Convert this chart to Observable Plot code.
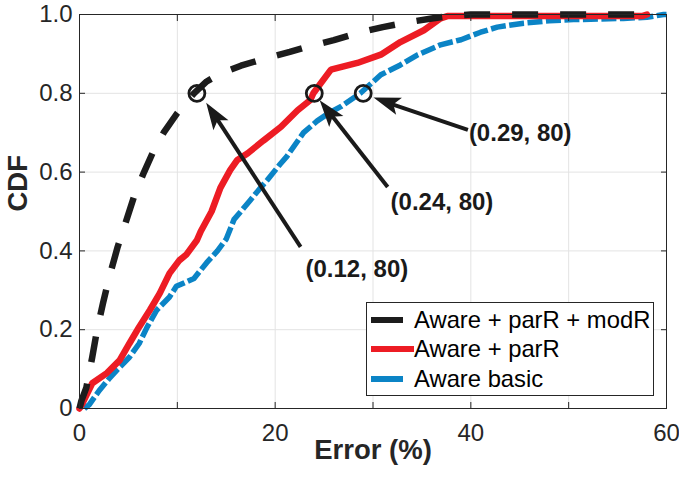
<!DOCTYPE html>
<html><head><meta charset="utf-8">
<script src="https://cdn.jsdelivr.net/npm/d3@7"></script>
<script src="https://cdn.jsdelivr.net/npm/@observablehq/plot@0.6"></script>
<style>
html,body{margin:0;padding:0;background:#fff;}
#wrap{position:relative;width:679px;height:484px;font-family:"Liberation Sans",Arial,sans-serif;}
#legend{position:absolute;left:366px;top:302px;width:286px;height:92px;border:1px solid #262626;background:#fff;}
.sw{position:absolute;left:4px;height:6px;}
.lt{position:absolute;left:47px;font-size:23.8px;color:#000;line-height:28px;white-space:nowrap;}
</style></head><body><div id="wrap"><div id="legend"></div></div>
<script>
// ---- data ----
const xTicks = [0, 10, 20, 30, 40, 50, 60];
const xLabelTicks = [0, 20, 40, 60];
const yTicks = [0, 0.2, 0.4, 0.6, 0.8, 1.0];
const seriesNames = ["Aware + parR + modR", "Aware + parR", "Aware basic"];
const seriesColors = ["#1c1c1c", "#ed1c24", "#0b84c6"];

const blackX = [0, 0.2, 0.7, 1.3, 1.8, 2.4, 3.0, 3.9, 4.9, 5.6, 6.6, 7.5, 8.6, 10.0, 11.7, 13.0, 14.4, 16.5, 19.2, 21.5, 23.6, 26.0, 28.4, 31.0, 33.5, 36.0, 38.0, 40.0, 58.0];
const blackY = [0, 0.02, 0.053, 0.13, 0.2, 0.267, 0.33, 0.41, 0.486, 0.54, 0.60, 0.65, 0.70, 0.75, 0.80, 0.83, 0.85, 0.87, 0.89, 0.905, 0.92, 0.935, 0.953, 0.968, 0.98, 0.99, 0.997, 1.0, 1.0];

const redX = [0, 0.3, 1.3, 2.8, 4.1, 5.1, 6.1, 7.2, 8.2, 9.2, 10.2, 10.9, 12.0, 12.4, 13.5, 14.4, 15.4, 16.1, 17.2, 18.8, 20.6, 22.3, 23.6, 23.9, 25.7, 28.4, 30.8, 32.8, 35.2, 36.9, 37.6, 45.0, 57.5, 58.0];
const redY = [0, 0.013, 0.064, 0.09, 0.122, 0.165, 0.207, 0.25, 0.292, 0.343, 0.376, 0.39, 0.427, 0.45, 0.50, 0.56, 0.605, 0.63, 0.648, 0.68, 0.715, 0.757, 0.783, 0.80, 0.86, 0.877, 0.898, 0.93, 0.96, 0.99, 0.996, 0.996, 0.996, 1.0];

const blueX = [0.5, 1.0, 2.0, 3.0, 3.8, 5.1, 6.1, 6.9, 7.9, 9.2, 9.9, 11.7, 13.0, 14.1, 15.0, 15.8, 16.5, 17.5, 18.5, 19.2, 20.5, 21.2, 22.9, 24.3, 25.5, 26.7, 28.7, 30.8, 32.8, 34.6, 36.9, 39.0, 41.0, 42.7, 45.4, 48.0, 50.5, 55.6, 58.0, 59.7, 60.0];
const blueY = [0, 0.01, 0.045, 0.075, 0.097, 0.13, 0.165, 0.206, 0.25, 0.283, 0.31, 0.33, 0.37, 0.40, 0.43, 0.48, 0.50, 0.53, 0.56, 0.58, 0.62, 0.64, 0.70, 0.73, 0.75, 0.766, 0.80, 0.847, 0.872, 0.898, 0.923, 0.936, 0.955, 0.968, 0.978, 0.984, 0.987, 0.99, 0.993, 1.0, 1.0];

// annotations: marked points, label text, label anchor, arrow tail and tip (data units)
const annX = [12, 24, 29];
const annY = [0.8, 0.8, 0.8];
const annText = ["(0.12, 80)", "(0.24, 80)", "(0.29, 80)"];
const annLabelX = [23.1, 31.8, 39.8];
const annLabelY = [0.354, 0.524, 0.699];
const annTailX = [22.6, 31.5, 39.7];
const annTailY = [0.41, 0.562, 0.707];
const annTipX = [13.0, 24.6, 30.1];
const annTipY = [0.775, 0.781, 0.788];

// ---- build tables ----
const toRows = (xs, ys) => xs.map((x, i) => ({x, y: ys[i]}));
const black = toRows(blackX, blackY);
const red = toRows(redX, redY);
const blue = toRows(blueX, blueY);
const ann = annX.map((x, i) => ({x, y: annY[i], text: annText[i], lx: annLabelX[i], ly: annLabelY[i],
  tx: annTailX[i], ty: annTailY[i], px: annTipX[i], py: annTipY[i]}));

const axisColor = "#262626";
const fnt = '"Liberation Sans", Arial, sans-serif';

const chart = Plot.plot({
  width: 679, height: 484,
  marginLeft: 79, marginRight: 13, marginTop: 14, marginBottom: 76,
  style: {fontFamily: fnt, background: "#fff", overflow: "visible"},
  x: {domain: [0, 60]},
  y: {domain: [0, 1]},
  marks: [
    Plot.gridX(xTicks.slice(1, -1), {stroke: "#e3e3e3", strokeOpacity: 1}),
    Plot.gridY(yTicks.slice(1, -1), {stroke: "#e3e3e3", strokeOpacity: 1}),
    Plot.line(blue, {x: "x", y: "y", stroke: seriesColors[2], strokeWidth: 5.5, strokeDasharray: "15,3.5", strokeLinecap: "butt"}),
    Plot.line(red, {x: "x", y: "y", stroke: seriesColors[1], strokeWidth: 6.5, strokeLinejoin: "miter"}),
    Plot.line(black, {x: "x", y: "y", stroke: seriesColors[0], strokeWidth: 6.5, strokeDasharray: "26,22", strokeLinecap: "butt"}),
    Plot.frame({stroke: axisColor, strokeWidth: 1}),
    Plot.axisX(xTicks, {anchor: "bottom", tickSize: -6, tickFormat: () => "", label: null, stroke: axisColor}),
    Plot.axisX(xTicks, {anchor: "top", tickSize: -6, tickFormat: () => "", label: null, stroke: axisColor}),
    Plot.axisY(yTicks, {anchor: "left", tickSize: -6, tickFormat: () => "", label: null, stroke: axisColor}),
    Plot.axisY(yTicks, {anchor: "right", tickSize: -6, tickFormat: () => "", label: null, stroke: axisColor}),
    Plot.axisX(xLabelTicks, {anchor: "bottom", tickSize: 0, tickPadding: 15, fontSize: 24, fill: axisColor, label: null, tickFormat: d => String(d)}),
    Plot.axisY(yTicks, {anchor: "left", tickSize: 0, tickPadding: 7, fontSize: 24, fill: axisColor, label: null, tickFormat: d => d === 0 ? "0" : d.toFixed(1)}),
    Plot.text(["Error (%)"], {frameAnchor: "bottom", dy: 50, fontSize: 27.5, fontWeight: "bold", fill: axisColor}),
    Plot.text(["CDF"], {frameAnchor: "left", dx: -61, rotate: -90, fontSize: 27.5, fontWeight: "bold", fill: axisColor}),
    Plot.dot(ann, {x: "x", y: "y", r: 8, stroke: "#1a1a1a", strokeWidth: 2.8, fill: "none"}),
    Plot.arrow(ann, {x1: "tx", y1: "ty", x2: "px", y2: "py", stroke: "#1a1a1a", strokeWidth: 4, headLength: 0, insetEnd: 14, strokeLinecap: "butt"}),
    Plot.text(ann, {x: "lx", y: "ly", text: "text", textAnchor: "start", fontSize: 24, fontWeight: "bold", fill: "#1a1a1a"})
  ]
});

// filled arrowheads placed through the plot's own scales
const sx = chart.scale("x"), sy = chart.scale("y");
const svg = d3.select(chart);
ann.forEach(a => {
  const tx = sx.apply(a.px), ty = sy.apply(a.py);
  const bx = sx.apply(a.tx), by = sy.apply(a.ty);
  const ang = Math.atan2(ty - by, tx - bx);
  const ux = Math.cos(ang), uy = Math.sin(ang), nx = -uy, ny = ux;
  const L = 27, W = 9, N = 21;
  const pts = [[tx, ty], [tx - L * ux + W * nx, ty - L * uy + W * ny], [tx - N * ux, ty - N * uy], [tx - L * ux - W * nx, ty - L * uy - W * ny]];
  svg.append("path").attr("d", "M" + pts.map(p => p.join(",")).join("L") + "Z").attr("fill", "#1a1a1a");
});

document.getElementById("wrap").prepend(chart);

// legend
const lg = document.getElementById("legend");
const rowCenters = [17, 46, 76];
const swWidths = [32, 43, 32];
seriesNames.forEach((name, i) => {
  const sw = document.createElement("div");
  sw.className = "sw";
  sw.style.top = (rowCenters[i] - 3) + "px";
  sw.style.width = swWidths[i] + "px";
  sw.style.background = seriesColors[i];
  lg.appendChild(sw);
  const t = document.createElement("div");
  t.className = "lt";
  t.style.top = (rowCenters[i] - 14) + "px";
  t.textContent = name;
  lg.appendChild(t);
});
</script></body></html>
